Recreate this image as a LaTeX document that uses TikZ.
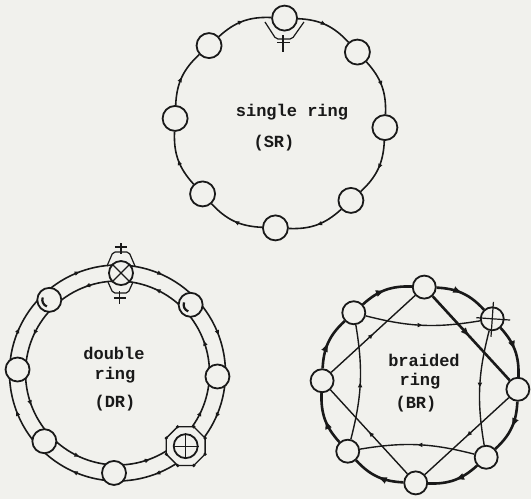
\documentclass[tikz,border=0pt]{standalone}
\usepackage{fontspec}
\setmonofont{Liberation Mono}
\usetikzlibrary{arrows.meta,decorations.markings}
\definecolor{paper}{RGB}{241,241,237}
\definecolor{ink}{RGB}{25,25,25}
\begin{document}
\begin{tikzpicture}[x=1pt,y=1pt,
  stn/.style={circle,draw=ink,fill=paper,line width=1.8pt,minimum size=25pt,inner sep=0pt},
  ringline/.style={draw=ink,line width=1.6pt},
  thickline/.style={draw=ink,line width=2.6pt},
  chord/.style={draw=ink,line width=1.4pt},
  thinmark/.style={draw=ink,line width=1.2pt},
  midarrow/.style={postaction={decorate,decoration={markings,mark=at position 0.5 with {\arrow[ink]{Triangle[length=5pt,width=4pt]}}}}},
  bigarrow/.style={postaction={decorate,decoration={markings,mark=at position 0.47 with {\arrow[ink]{Triangle[length=8pt,width=6pt]}}}}},
  lbl/.style={font=\ttfamily\bfseries\fontsize{17}{20}\selectfont,text=ink,inner sep=0pt}
]
\fill[paper] (0,0) rectangle (531,499);
\useasboundingbox (0,0) rectangle (531,499);

% ---------------- single ring ----------------
\coordinate (sc) at (280,376);
\foreach \n [count=\i from 0] in {T,UR,R,LR,B,LL,L,UL}
  \node[stn] (s\n) at ([shift={({87.5-45*\i}:105)}]sc) {};
\foreach \a/\b in {T/UR,UR/R,R/LR,LR/B,B/LL,LL/L,L/UL,UL/T}
  \draw[ringline,midarrow] (s\a) to[bend left=22.5] (s\b);
\begin{scope}[shift={(sT)}]
  \draw[thinmark,rounded corners=2pt] (-19.6,-3.9) -- (-8.6,-20.9) -- (7.4,-20.9) -- (19.4,-3.9);
  \draw[thinmark] (-1.6,-17) -- (-1.6,-34);
  \draw[thinmark] (-7.5,-24) -- (5.5,-24);
\end{scope}
\node[lbl] (sr1) at (292,387) {single ring};
\node[lbl] (sr2) at (274,356) {(SR)};

% ---------------- double ring ----------------
\coordinate (dc) at (117.5,126);
\foreach \n [count=\i from 0] in {T,UR,R,LR,B,LL,L,UL} {
  \coordinate (do\n) at ([shift={({88-45*\i}:108)}]dc);
  \coordinate (di\n) at ([shift={({88-45*\i}:92)}]dc);
  \coordinate (dp\n) at ([shift={({88-45*\i}:100)}]dc);
}
\foreach \a/\b in {T/UR,UR/R,R/LR,LR/B,B/LL,LL/L,L/UL,UL/T} {
  \draw[ringline,midarrow] (do\a) to[bend left=22.5,looseness=0.885] (do\b);
  \draw[ringline,midarrow] (di\b) to[bend right=22.5,looseness=0.885] (di\a);
}
% bypass around the top station
\begin{scope}[shift={(dpT)}]
  \draw[thinmark,rounded corners=2pt] (-14,7) -- (-8,21) -- (8,21) -- (14,7);
  \draw[thinmark] (0,19) -- (0,30);
  \draw[thinmark] (-6,26) -- (6,26);
  \draw[thinmark,rounded corners=2pt] (-13,-9) -- (-8,-20) -- (7,-20) -- (12,-9);
  \draw[thinmark] (-1.5,-18) -- (-1.5,-31);
  \draw[thinmark] (-7,-25) -- (5,-25);
\end{scope}
% octagon around the lower-right station
\filldraw[fill=paper,draw=ink,line width=1.3pt]
  ([shift={(22.5:21)}]dpLR) \foreach \k in {1,...,7} { -- ([shift={({22.5+45*\k}:21)}]dpLR) } -- cycle;
\foreach \k in {0,...,7}
  \fill[ink] ([shift={({22.5+45*\k}:21)}]dpLR) circle (1.8);
\foreach \n in {T,UR,R,LR,B,LL,L,UL}
  \node[stn,minimum size=24pt] (d\n) at (dp\n) {};
\draw[thinmark] (dT.45) -- (dT.225);
\draw[thinmark] (dT.135) -- (dT.315);
\draw[thinmark] (dLR.north) -- (dLR.south);
\draw[thinmark] (dLR.east) -- (dLR.west);
\draw[ink,line width=2.2pt] ([shift={(160:7)}]dUL) arc[start angle=160,end angle=250,radius=7];
\draw[ink,line width=2.2pt] ([shift={(160:7)}]dUR) arc[start angle=160,end angle=250,radius=7];
\node[lbl] (dr1) at (114,146) {double};
\node[lbl] (dr2) at (115,124) {ring};
\node[lbl] (dr3) at (115,96) {(DR)};

% ---------------- braided ring ----------------
\coordinate (bc) at (420,114);
\foreach \n [count=\i from 0] in {T,UR,R,LR,B,LL,L,UL}
  \node[stn,minimum size=23pt] (b\n) at ([shift={({87.5-45*\i}:98)}]bc) {};
\foreach \a/\b in {T/UR,UR/R,R/LR,LR/B,B/LL,LL/L,L/UL,UL/T}
  \draw[thickline,bigarrow] (b\a) to[bend left=22.5] (b\b);
\foreach \a/\b in {UL/UR,UR/LR,LR/LL,LL/UL}
  \draw[chord,midarrow] (b\a) to[bend right=12] (b\b);
\draw[thickline,bigarrow] (bT) -- (bR);
\foreach \a/\b in {R/B,B/L,L/T}
  \draw[chord,midarrow] (b\a) -- (b\b);
\begin{scope}[shift={(bUR)},rotate=-4]
  \draw[thinmark] (-16,0) -- (18,0);
  \draw[thinmark] (0,17) -- (0,-18);
\end{scope}
\node[lbl] (br1) at (424,139) {braided};
\node[lbl] (br2) at (420,118) {ring};
\node[lbl] (br3) at (416,95) {(BR)};
\end{tikzpicture}
\end{document}
